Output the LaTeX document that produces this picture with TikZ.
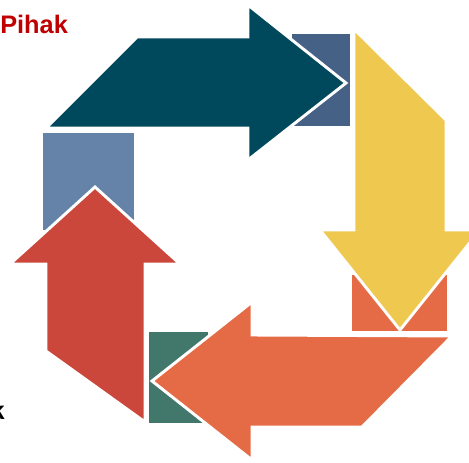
\documentclass[tikz,border=0pt]{standalone}
\usepackage{fontspec}
\setmainfont{Liberation Sans}
\definecolor{teal1}{HTML}{00495C}
\definecolor{slate1}{HTML}{466186}
\definecolor{yellow1}{HTML}{EFC84F}
\definecolor{orange1}{HTML}{E56B46}
\definecolor{green1}{HTML}{42786C}
\definecolor{red1}{HTML}{CB463B}
\definecolor{slate2}{HTML}{6583A8}
\definecolor{label1}{HTML}{C00000}
\tikzset{
  arrowpiece/.style={draw=white, line width=2.2pt, line join=miter},
  backsquare/.style={draw=none},
  labeltext/.style={inner sep=0pt, font=\bfseries\fontsize{19}{22}\selectfont}
}
\begin{document}
\begin{tikzpicture}[x=0.75pt, y=-0.75pt]
\useasboundingbox (0,0) rectangle (469,462);
\clip (0,0) rectangle (469,462);

% squares behind the tips
\fill[slate1, backsquare] (292,34) rectangle (350,126);
\fill[orange1, backsquare] (352,275) rectangle (447,331);
\fill[green1, backsquare] (149,332) rectangle (208,423);
\fill[slate2, backsquare] (43,133) rectangle (134,230);

% the four arrows
\filldraw[teal1, arrowpiece] (137,37) -- (248,37) -- (248,5) -- (346,83) -- (248,160) -- (248,128) -- (46,128) -- cycle;
\filldraw[yellow1, arrowpiece] (354,29) -- (446,120) -- (446,230) -- (480,230) -- (400,330) -- (320,230) -- (354,230) -- cycle;
\filldraw[orange1, arrowpiece] (452,336) -- (362,427) -- (252,427) -- (252,460) -- (152,381) -- (252,302) -- (252,335) -- cycle;
\filldraw[red1, arrowpiece] (95,187) -- (180,264) -- (145,264) -- (145,422) -- (46,351) -- (46,264) -- (10,264) -- cycle;

\node[labeltext, text=label1, anchor=base west] (pihak) at (0,33) {Pihak};
\node[labeltext, anchor=base east] (cutk) at (5,419) {k};
\end{tikzpicture}
\end{document}
